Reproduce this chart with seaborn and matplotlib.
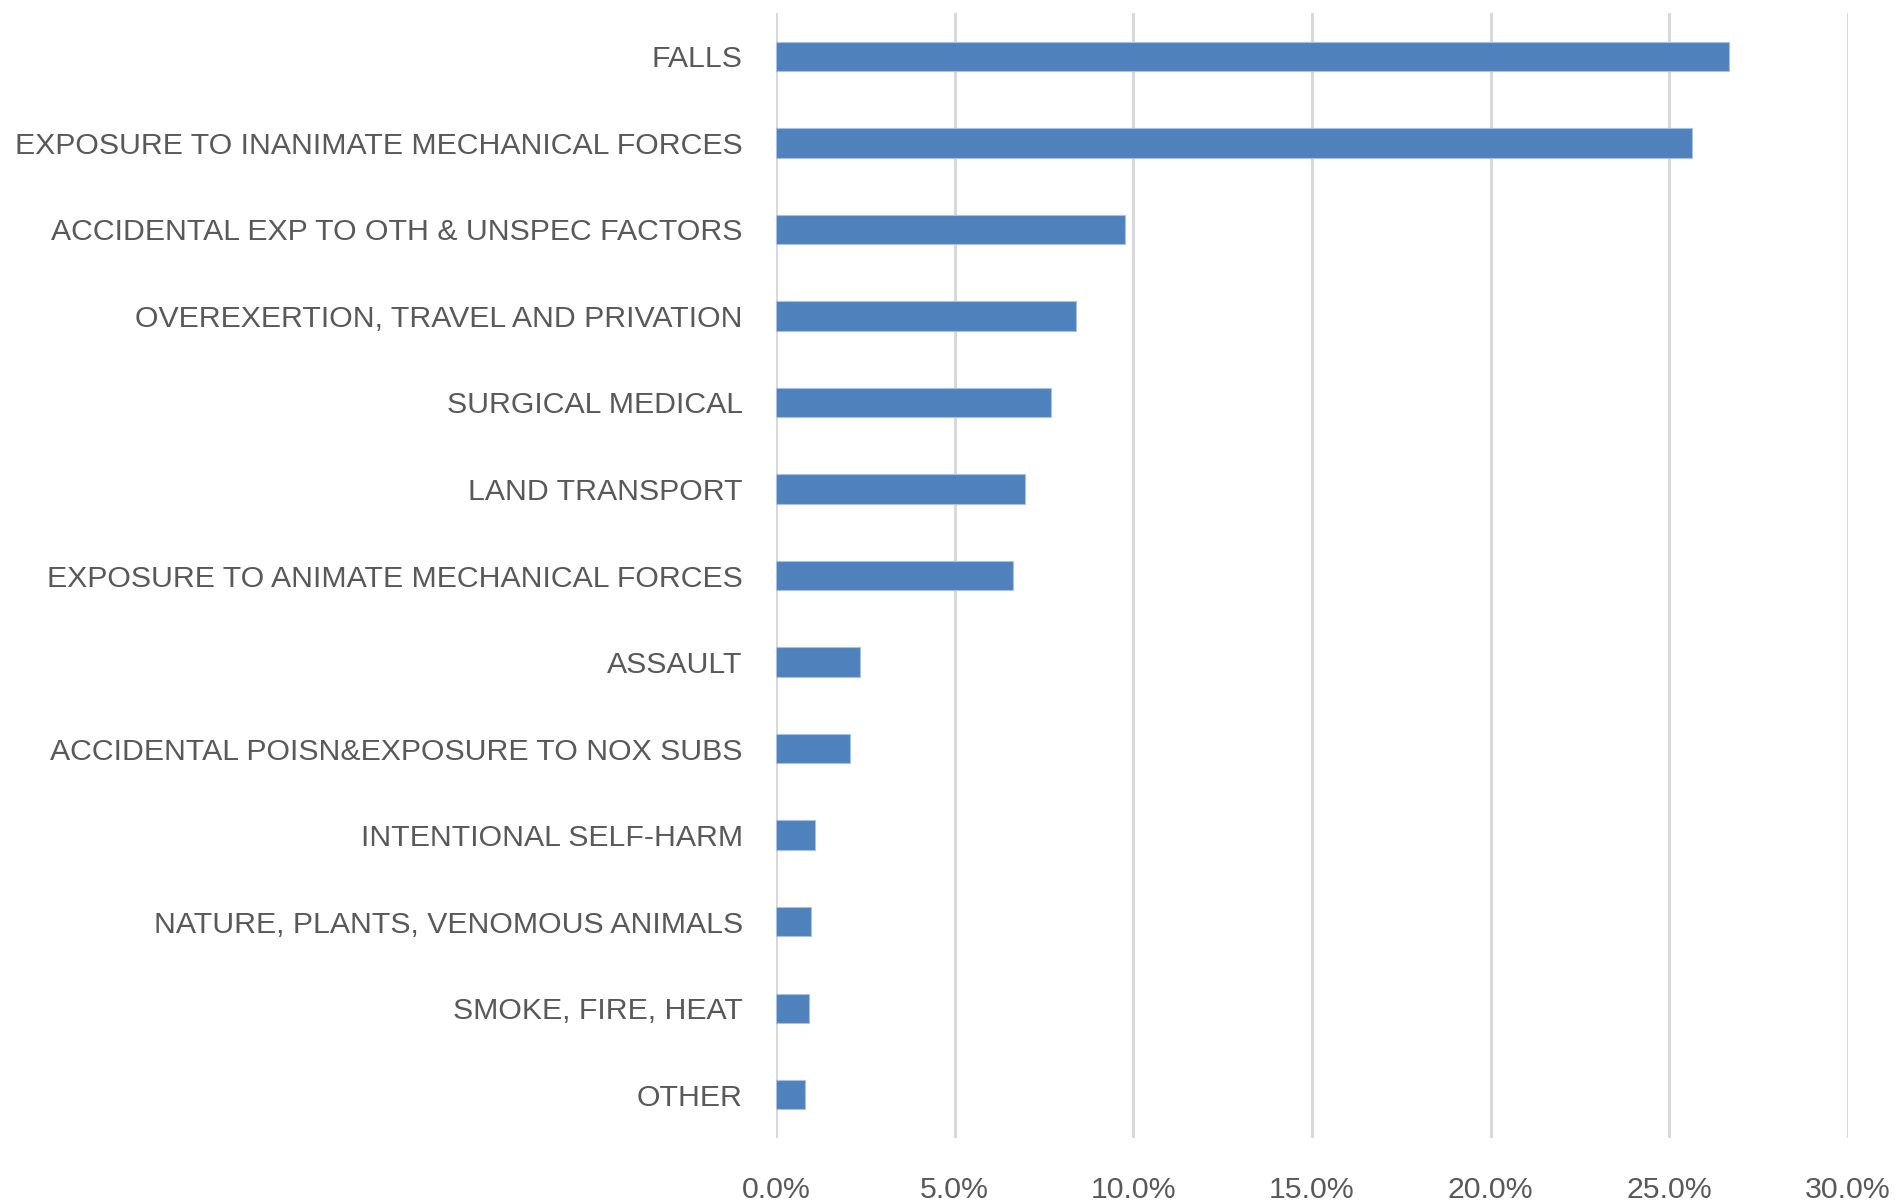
import numpy as np
import pandas as pd

import seaborn as sns
import matplotlib.pyplot as plt
from matplotlib.ticker import FuncFormatter

import warnings
warnings.filterwarnings('ignore')

causes = [
    'FALLS',
    'EXPOSURE TO INANIMATE MECHANICAL FORCES',
    'ACCIDENTAL EXP TO OTH & UNSPEC FACTORS',
    'OVEREXERTION, TRAVEL AND PRIVATION',
    'SURGICAL MEDICAL',
    'LAND TRANSPORT',
    'EXPOSURE TO ANIMATE MECHANICAL FORCES',
    'ASSAULT',
    'ACCIDENTAL POISN&EXPOSURE TO NOX SUBS',
    'INTENTIONAL SELF-HARM',
    'NATURE, PLANTS, VENOMOUS ANIMALS',
    'SMOKE, FIRE, HEAT',
    'OTHER',
]
share_pct = [26.67, 25.64, 9.77, 8.41, 7.69, 6.97, 6.64, 2.35, 2.07, 1.09, 0.97, 0.92, 0.81]
x_ticks = [0, 5, 10, 15, 20, 25, 30]

df = pd.DataFrame({'cause': causes, 'share': share_pct})

sns.set_style('white')
plt.rcParams['font.family'] = ['Liberation Sans Narrow', 'Liberation Sans', 'DejaVu Sans']

text_color = '#595959'

fig = plt.figure(figsize=(19, 12.03), dpi=100)
ax = fig.add_axes([0.4084, 0.054, 0.5642, 0.9352])

sns.barplot(data=df, x='share', y='cause', orient='h', color='#4f81bd',
            width=0.34, saturation=1, edgecolor='#a9c1e0', linewidth=0.8, ax=ax)

ax.set_xlim(0, 30)
ax.set_xticks(x_ticks)
ax.xaxis.set_major_formatter(FuncFormatter(lambda v, p: f'{v:.1f}%'))
ax.grid(axis='x', color='#d9d9d9', linewidth=2.2)
ax.grid(axis='y', visible=False)
ax.set_axisbelow(True)
for s in ax.spines.values():
    s.set_visible(False)

ax.tick_params(axis='y', length=0, pad=24, labelsize=21.8, labelcolor=text_color)
ax.tick_params(axis='x', length=0, pad=27, labelsize=21.8, labelcolor=text_color)
ax.set_xlabel('')
ax.set_ylabel('')

plt.savefig('out.png', dpi=100)
